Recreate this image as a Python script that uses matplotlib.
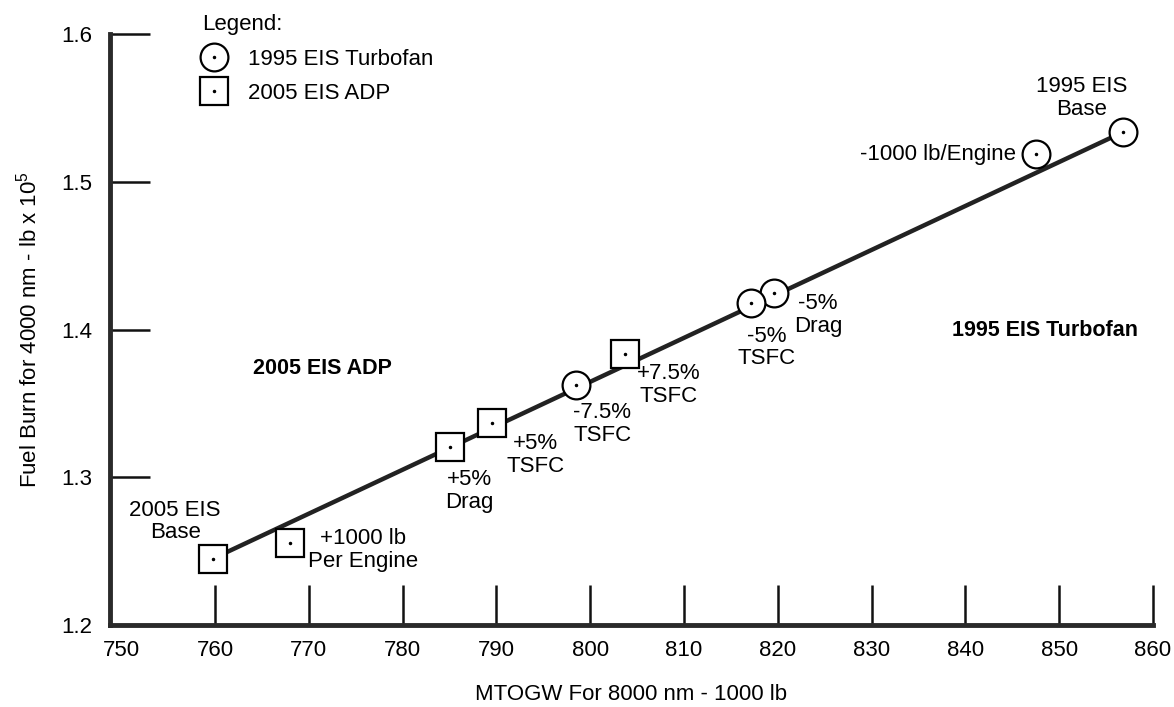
import numpy as np
import matplotlib
matplotlib.use("Agg")
import matplotlib.pyplot as plt

plt.rcParams['font.family'] = ['Liberation Sans', 'DejaVu Sans']
plt.rcParams['mathtext.default'] = 'regular'

# data
turbofan_x = [856.8, 847.5, 819.6, 817.1, 798.5]
turbofan_y = [1.5336, 1.5186, 1.4244, 1.4176, 1.3627]
turbofan_labels = ["1995 EIS\nBase", "-1000 lb/Engine", "-5%\nDrag", "-5%\nTSFC", "-7.5%\nTSFC"]
turbofan_offsets = [(-41, 34), (-98, 0), (44, -22), (16, -44), (26, -39)]

adp_x = [759.8, 768.0, 785.05, 789.5, 803.7]
adp_y = [1.245, 1.2556, 1.3207, 1.337, 1.3837]
adp_labels = ["2005 EIS\nBase", "+1000 lb\nPer Engine", "+5%\nDrag", "+5%\nTSFC", "+7.5%\nTSFC"]
adp_offsets = [(-38, 37), (73, -7), (19, -44), (44, -32), (44, -31)]

trend_x = [759.8, 856.8]
trend_y = [1.245, 1.5336]

x_ticks = list(range(750, 861, 10))
y_ticks = [1.2, 1.3, 1.4, 1.5, 1.6]

fig = plt.figure(figsize=(11.74, 7.07), dpi=100)
ax = fig.add_axes([110 / 1174, 1 - 625 / 707, (1153 - 110) / 1174, (625 - 34) / 707])

ax.plot(trend_x, trend_y, color='#222222', lw=3.2, zorder=1, solid_capstyle='butt')

circ, = ax.plot(turbofan_x, turbofan_y, 'o', ms=20, mfc='white', mec='black', mew=1.6, ls='none', zorder=3)
dot_c, = ax.plot(turbofan_x, turbofan_y, '.', ms=3, color='black', ls='none', zorder=4)
sq, = ax.plot(adp_x, adp_y, 's', ms=20, mfc='white', mec='black', mew=1.6, ls='none', zorder=3)
dot_s, = ax.plot(adp_x, adp_y, '.', ms=3, color='black', ls='none', zorder=4)

for x, y, t, off in zip(turbofan_x + adp_x, turbofan_y + adp_y,
                        turbofan_labels + adp_labels, turbofan_offsets + adp_offsets):
    ax.annotate(t, (x, y), xytext=off, textcoords='offset pixels',
                ha='center', va='center', fontsize=16, linespacing=1.12)

fig.text(322 / 1174, 1 - 368 / 707, "2005 EIS ADP", fontsize=15.5, fontweight='bold', ha='center', va='center')
fig.text(1045 / 1174, 1 - 330 / 707, "1995 EIS Turbofan", fontsize=15.5, fontweight='bold', ha='center', va='center')

leg = ax.legend([(circ, dot_c), (sq, dot_s)], ["1995 EIS Turbofan", "2005 EIS ADP"],
                title="Legend:", loc='upper left', bbox_to_anchor=(188 / 1174, 1 - 0 / 707),
                bbox_transform=fig.transFigure, frameon=False, fontsize=16, title_fontsize=16,
                handlelength=1.0, handletextpad=1.05, labelspacing=0.6, borderpad=0.15,
                alignment='left')

ax.set_xlim(748.8, 860)
ax.set_ylim(1.2, 1.6)
ax.set_xticks(x_ticks)
ax.set_yticks(y_ticks)
ax.set_yticklabels([f"{v:.1f}" for v in y_ticks])
ax.xaxis.get_major_ticks()[0].tick1line.set_visible(False)

for s in ['top', 'right']:
    ax.spines[s].set_visible(False)
for s in ['left', 'bottom']:
    ax.spines[s].set_linewidth(3.5)
    ax.spines[s].set_color('#2a2a2a')

ax.tick_params(axis='both', direction='in', length=29, width=1.8, labelsize=16, color='#111111')
ax.tick_params(axis='x', pad=11)
ax.tick_params(axis='y', pad=13)

ax.set_xlabel("MTOGW For 8000 nm - 1000 lb", fontsize=16, labelpad=16)
ax.set_ylabel(r"Fuel Burn for 4000 nm - lb x 10$^5$", fontsize=16, labelpad=14)

fig.savefig("out.png", dpi=100)
